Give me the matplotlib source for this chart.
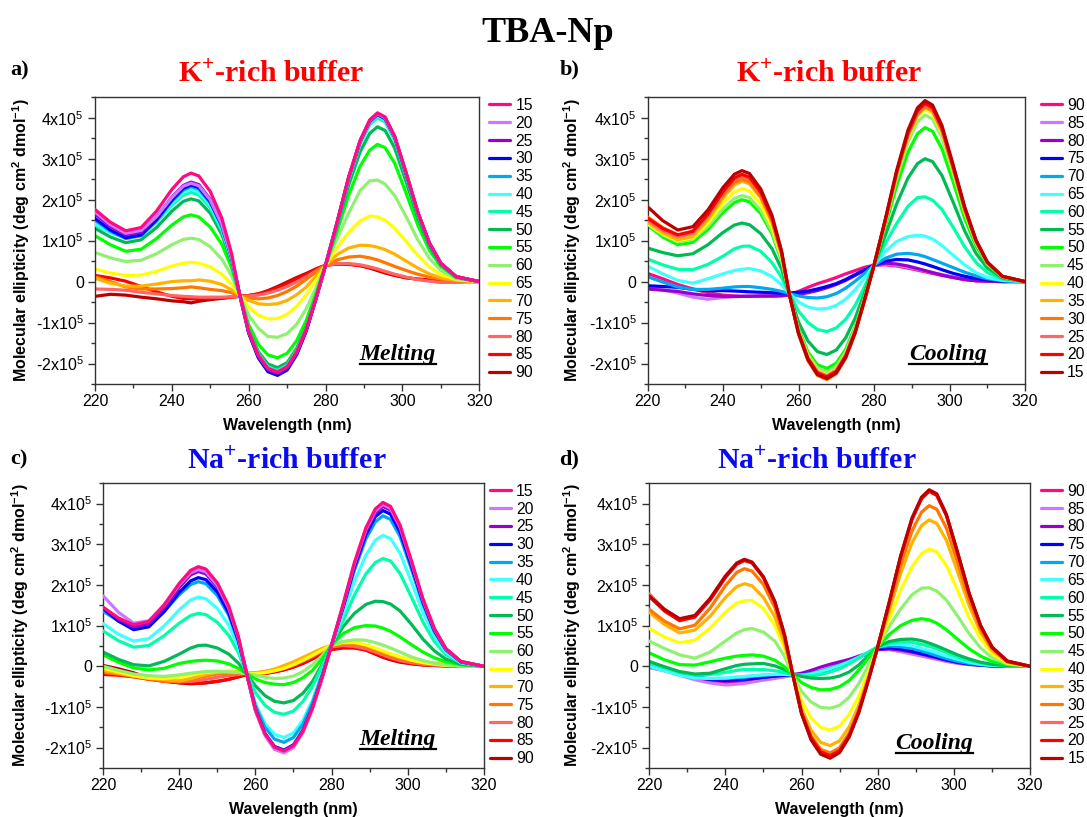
import numpy as np
import matplotlib
matplotlib.use('Agg')
from matplotlib import pyplot as plt
from matplotlib.ticker import MultipleLocator, FuncFormatter

plt.rcParams['font.family'] = ['Liberation Sans', 'DejaVu Sans']
plt.rcParams['mathtext.fontset'] = 'custom'
plt.rcParams['mathtext.rm'] = 'Liberation Sans'
plt.rcParams['mathtext.bf'] = 'Liberation Sans:bold'
plt.rcParams['mathtext.it'] = 'Liberation Sans:italic'

# -----------------------------
# data: ellipticity in units of 1e5 deg cm2 dmol-1, read at these wavelengths (nm)
# -----------------------------
wl = [220, 224, 228, 232, 236, 240, 243, 245, 247, 250, 253, 255.5, 257.5, 260, 262.5,
      265, 267.5, 270, 272.5, 275, 277.5, 280, 283, 286, 289, 291.5, 293.5, 295.5, 298,
      301, 304, 307, 310, 314, 320]

temps_melt = [15, 20, 25, 30, 35, 40, 45, 50, 55, 60, 65, 70, 75, 80, 85, 90]
temps_cool = [90, 85, 80, 75, 70, 65, 60, 55, 50, 45, 40, 35, 30, 25, 20, 15]

# legend-position colours (same palette for every panel)
colors = ['#FF0A80', '#CC77FF', '#9900CC', '#0000FF', '#00A8F0', '#40FFFF',
          '#00FFAA', '#00BB55', '#00FF00', '#90F070', '#FFFF00', '#FFB300',
          '#FF7700', '#FF6666', '#FF0000', '#BB0000']

# a) K+ rich, melting
kmelt_15 = [1.76, 1.45, 1.24, 1.32, 1.72, 2.25, 2.56, 2.65, 2.58, 2.20, 1.55, 0.70, -0.25, -1.22, -1.80, -2.12, -2.21, -2.08, -1.72, -1.15, -0.40, 0.40, 1.45, 2.55, 3.45, 3.95, 4.12, 4.02, 3.55, 2.65, 1.70, 0.95, 0.45, 0.12, 0.0]
kmelt_20 = [1.70, 1.39, 1.18, 1.25, 1.59, 2.05, 2.33, 2.40, 2.34, 1.99, 1.39, 0.61, -0.26, -1.21, -1.79, -2.11, -2.20, -2.07, -1.71, -1.14, -0.40, 0.40, 1.44, 2.54, 3.43, 3.93, 4.10, 4.00, 3.53, 2.64, 1.69, 0.95, 0.45, 0.12, 0.0]
kmelt_25 = [1.65, 1.35, 1.14, 1.21, 1.58, 2.06, 2.35, 2.43, 2.37, 2.01, 1.41, 0.62, -0.26, -1.23, -1.82, -2.15, -2.24, -2.11, -1.74, -1.17, -0.41, 0.40, 1.44, 2.54, 3.43, 3.93, 4.10, 4.00, 3.53, 2.64, 1.69, 0.95, 0.45, 0.12, 0.0]
kmelt_30 = [1.54, 1.26, 1.07, 1.14, 1.51, 1.99, 2.28, 2.36, 2.30, 1.95, 1.37, 0.60, -0.26, -1.26, -1.86, -2.20, -2.29, -2.16, -1.78, -1.20, -0.43, 0.40, 1.44, 2.53, 3.42, 3.91, 4.08, 3.98, 3.52, 2.62, 1.69, 0.94, 0.44, 0.12, 0.0]
kmelt_35 = [1.50, 1.23, 1.05, 1.12, 1.48, 1.96, 2.24, 2.32, 2.26, 1.92, 1.34, 0.59, -0.26, -1.25, -1.85, -2.18, -2.27, -2.14, -1.77, -1.19, -0.42, 0.40, 1.44, 2.53, 3.42, 3.91, 4.08, 3.98, 3.52, 2.62, 1.69, 0.94, 0.44, 0.12, 0.0]
kmelt_40 = [1.42, 1.20, 1.06, 1.12, 1.46, 1.91, 2.18, 2.25, 2.19, 1.86, 1.30, 0.56, -0.26, -1.22, -1.81, -2.13, -2.22, -2.09, -1.73, -1.16, -0.40, 0.40, 1.43, 2.51, 3.39, 3.88, 4.05, 3.95, 3.49, 2.60, 1.67, 0.94, 0.44, 0.12, 0.0]
kmelt_45 = [1.38, 1.20, 1.07, 1.14, 1.45, 1.87, 2.11, 2.18, 2.12, 1.80, 1.25, 0.54, -0.26, -1.20, -1.77, -2.08, -2.17, -2.04, -1.69, -1.13, -0.39, 0.40, 1.42, 2.48, 3.35, 3.83, 4.00, 3.90, 3.45, 2.57, 1.65, 0.92, 0.44, 0.12, 0.0]
kmelt_50 = [1.30, 1.09, 0.95, 1.02, 1.32, 1.72, 1.96, 2.02, 1.97, 1.67, 1.15, 0.48, -0.27, -1.17, -1.71, -2.01, -2.10, -1.98, -1.63, -1.09, -0.37, 0.40, 1.35, 2.35, 3.17, 3.62, 3.78, 3.69, 3.26, 2.43, 1.56, 0.87, 0.41, 0.11, 0.0]
kmelt_55 = [1.12, 0.90, 0.74, 0.79, 1.05, 1.38, 1.58, 1.63, 1.58, 1.33, 0.91, 0.35, -0.28, -1.05, -1.53, -1.79, -1.86, -1.75, -1.44, -0.94, -0.29, 0.40, 1.23, 2.11, 2.82, 3.21, 3.35, 3.27, 2.89, 2.15, 1.38, 0.77, 0.37, 0.10, 0.0]
kmelt_60 = [0.71, 0.58, 0.49, 0.52, 0.68, 0.90, 1.03, 1.06, 1.03, 0.85, 0.55, 0.15, -0.29, -0.82, -1.14, -1.34, -1.36, -1.27, -1.04, -0.66, -0.15, 0.40, 1.05, 1.67, 2.22, 2.46, 2.48, 2.38, 2.10, 1.58, 1.02, 0.57, 0.27, 0.07, 0.0]
kmelt_65 = [0.31, 0.21, 0.15, 0.16, 0.25, 0.38, 0.45, 0.47, 0.45, 0.36, 0.18, -0.06, -0.31, -0.62, -0.82, -0.91, -0.90, -0.80, -0.60, -0.32, 0.02, 0.40, 0.83, 1.20, 1.48, 1.60, 1.58, 1.50, 1.30, 0.98, 0.64, 0.36, 0.17, 0.05, 0.0]
kmelt_70 = [0.08, -0.04, -0.11, -0.11, -0.06, 0.00, 0.02, 0.02, 0.04, 0.01, -0.07, -0.20, -0.33, -0.46, -0.54, -0.56, -0.54, -0.46, -0.32, -0.13, 0.13, 0.40, 0.66, 0.82, 0.89, 0.88, 0.84, 0.78, 0.67, 0.50, 0.33, 0.19, 0.09, 0.03, 0.0]
kmelt_75 = [0.12, 0.00, -0.13, -0.18, -0.18, -0.17, -0.15, -0.13, -0.15, -0.19, -0.22, -0.27, -0.34, -0.40, -0.42, -0.40, -0.34, -0.24, -0.11, 0.06, 0.23, 0.40, 0.53, 0.60, 0.62, 0.58, 0.53, 0.46, 0.37, 0.27, 0.18, 0.11, 0.06, 0.02, 0.0]
kmelt_80 = [-0.18, -0.19, -0.21, -0.26, -0.30, -0.34, -0.36, -0.37, -0.38, -0.38, -0.38, -0.37, -0.36, -0.35, -0.33, -0.28, -0.21, -0.12, -0.01, 0.12, 0.26, 0.40, 0.44, 0.44, 0.41, 0.36, 0.31, 0.25, 0.18, 0.11, 0.05, 0.01, -0.02, -0.02, 0.0]
kmelt_85 = [0.15, 0.09, 0.01, -0.12, -0.25, -0.36, -0.41, -0.42, -0.42, -0.41, -0.40, -0.38, -0.36, -0.34, -0.30, -0.24, -0.15, -0.04, 0.07, 0.18, 0.30, 0.40, 0.43, 0.42, 0.39, 0.34, 0.29, 0.23, 0.16, 0.10, 0.06, 0.03, 0.02, 0.01, 0.0]
kmelt_90 = [-0.36, -0.31, -0.33, -0.38, -0.42, -0.47, -0.49, -0.52, -0.48, -0.44, -0.41, -0.38, -0.36, -0.34, -0.30, -0.22, -0.12, -0.01, 0.10, 0.20, 0.31, 0.40, 0.43, 0.43, 0.39, 0.33, 0.27, 0.21, 0.15, 0.09, 0.06, 0.04, 0.02, 0.01, 0.0]

# b) K+ rich, cooling
kcool_90 = [0.20, 0.07, -0.07, -0.18, -0.27, -0.33, -0.35, -0.36, -0.36, -0.36, -0.36, -0.35, -0.32, -0.24, -0.14, -0.05, 0.02, 0.10, 0.19, 0.27, 0.35, 0.40, 0.41, 0.38, 0.33, 0.28, 0.24, 0.20, 0.15, 0.10, 0.05, 0.02, 0.01, 0.0, 0.0]
kcool_85 = [-0.15, -0.20, -0.28, -0.38, -0.43, -0.39, -0.37, -0.36, -0.35, -0.35, -0.35, -0.35, -0.33, -0.31, -0.26, -0.20, -0.13, -0.05, 0.05, 0.17, 0.29, 0.40, 0.43, 0.40, 0.35, 0.30, 0.26, 0.22, 0.17, 0.11, 0.06, 0.03, 0.01, 0.0, 0.0]
kcool_80 = [-0.18, -0.21, -0.24, -0.30, -0.34, -0.36, -0.36, -0.36, -0.36, -0.35, -0.35, -0.34, -0.33, -0.31, -0.27, -0.22, -0.15, -0.07, 0.03, 0.15, 0.28, 0.40, 0.45, 0.43, 0.38, 0.32, 0.27, 0.22, 0.16, 0.10, 0.05, 0.02, 0.01, 0.0, 0.0]
kcool_75 = [-0.10, -0.12, -0.14, -0.19, -0.22, -0.22, -0.23, -0.24, -0.25, -0.26, -0.27, -0.28, -0.28, -0.26, -0.23, -0.18, -0.12, -0.05, 0.05, 0.17, 0.29, 0.40, 0.50, 0.54, 0.53, 0.48, 0.43, 0.37, 0.29, 0.20, 0.13, 0.08, 0.04, 0.01, 0.0]
kcool_70 = [0.12, -0.01, -0.13, -0.19, -0.19, -0.16, -0.13, -0.12, -0.12, -0.15, -0.19, -0.24, -0.29, -0.35, -0.39, -0.40, -0.37, -0.29, -0.16, 0.01, 0.20, 0.40, 0.57, 0.67, 0.69, 0.66, 0.61, 0.54, 0.45, 0.34, 0.23, 0.14, 0.07, 0.02, 0.0]
kcool_65 = [0.38, 0.19, 0.03, -0.04, 0.07, 0.19, 0.27, 0.30, 0.32, 0.26, 0.12, -0.08, -0.28, -0.50, -0.62, -0.67, -0.66, -0.58, -0.43, -0.20, 0.09, 0.40, 0.74, 0.98, 1.10, 1.13, 1.11, 1.04, 0.88, 0.64, 0.41, 0.22, 0.10, 0.03, 0.0]
kcool_60 = [0.55, 0.41, 0.30, 0.29, 0.42, 0.62, 0.80, 0.86, 0.87, 0.74, 0.46, 0.10, -0.28, -0.72, -1.00, -1.17, -1.22, -1.13, -0.92, -0.58, -0.12, 0.40, 0.93, 1.42, 1.84, 2.05, 2.07, 1.99, 1.76, 1.32, 0.85, 0.47, 0.22, 0.06, 0.0]
kcool_55 = [0.82, 0.71, 0.63, 0.68, 0.90, 1.20, 1.38, 1.43, 1.39, 1.17, 0.80, 0.31, -0.28, -0.99, -1.45, -1.71, -1.78, -1.67, -1.37, -0.89, -0.27, 0.40, 1.13, 1.90, 2.53, 2.88, 3.00, 2.93, 2.59, 1.93, 1.24, 0.69, 0.33, 0.09, 0.0]
kcool_50 = [1.38, 1.09, 0.90, 0.96, 1.27, 1.69, 1.93, 2.00, 1.95, 1.66, 1.16, 0.51, -0.28, -1.15, -1.72, -2.03, -2.12, -1.99, -1.65, -1.10, -0.37, 0.40, 1.35, 2.34, 3.16, 3.61, 3.76, 3.67, 3.24, 2.42, 1.55, 0.87, 0.41, 0.11, 0.0]
kcool_45 = [1.40, 1.14, 0.97, 1.03, 1.35, 1.78, 2.03, 2.10, 2.05, 1.74, 1.22, 0.54, -0.28, -1.19, -1.78, -2.11, -2.20, -2.07, -1.71, -1.14, -0.40, 0.40, 1.43, 2.52, 3.41, 3.90, 4.07, 3.97, 3.51, 2.62, 1.68, 0.94, 0.44, 0.12, 0.0]
kcool_40 = [1.42, 1.17, 1.00, 1.07, 1.43, 1.91, 2.19, 2.27, 2.21, 1.89, 1.33, 0.60, -0.28, -1.23, -1.84, -2.18, -2.28, -2.15, -1.78, -1.19, -0.42, 0.40, 1.47, 2.60, 3.52, 4.03, 4.20, 4.10, 3.62, 2.70, 1.73, 0.97, 0.46, 0.12, 0.0]
kcool_35 = [1.45, 1.19, 1.02, 1.10, 1.51, 2.04, 2.36, 2.45, 2.39, 2.04, 1.44, 0.66, -0.28, -1.24, -1.88, -2.22, -2.32, -2.18, -1.81, -1.22, -0.44, 0.40, 1.49, 2.63, 3.56, 4.07, 4.25, 4.15, 3.66, 2.73, 1.76, 0.98, 0.46, 0.12, 0.0]
kcool_30 = [1.58, 1.32, 1.14, 1.22, 1.60, 2.11, 2.42, 2.50, 2.44, 2.08, 1.47, 0.68, -0.28, -1.28, -1.93, -2.29, -2.39, -2.25, -1.87, -1.26, -0.46, 0.40, 1.49, 2.64, 3.58, 4.10, 4.28, 4.18, 3.69, 2.75, 1.77, 0.99, 0.47, 0.12, 0.0]
kcool_25 = [1.50, 1.25, 1.09, 1.18, 1.60, 2.16, 2.49, 2.58, 2.51, 2.15, 1.52, 0.71, -0.28, -1.24, -1.86, -2.20, -2.30, -2.17, -1.79, -1.20, -0.43, 0.40, 1.50, 2.65, 3.60, 4.12, 4.30, 4.20, 3.71, 2.76, 1.78, 0.99, 0.47, 0.12, 0.0]
kcool_20 = [1.55, 1.30, 1.14, 1.23, 1.65, 2.20, 2.53, 2.62, 2.55, 2.18, 1.55, 0.72, -0.28, -1.25, -1.88, -2.23, -2.33, -2.19, -1.82, -1.22, -0.44, 0.40, 1.51, 2.68, 3.64, 4.17, 4.35, 4.25, 3.75, 2.80, 1.80, 1.00, 0.47, 0.13, 0.0]
kcool_15 = [1.83, 1.49, 1.26, 1.34, 1.75, 2.30, 2.62, 2.71, 2.64, 2.26, 1.61, 0.75, -0.28, -1.27, -1.91, -2.27, -2.37, -2.23, -1.85, -1.25, -0.45, 0.40, 1.53, 2.72, 3.70, 4.24, 4.42, 4.31, 3.81, 2.84, 1.83, 1.02, 0.48, 0.13, 0.0]

# c) Na+ rich, melting
namelt_15 = [1.45, 1.19, 1.02, 1.10, 1.51, 2.04, 2.36, 2.45, 2.39, 2.05, 1.48, 0.74, -0.10, -1.07, -1.66, -1.99, -2.08, -1.95, -1.59, -1.02, -0.28, 0.52, 1.51, 2.55, 3.40, 3.87, 4.03, 3.93, 3.47, 2.59, 1.66, 0.93, 0.44, 0.12, 0.0]
namelt_20 = [1.73, 1.33, 1.06, 1.12, 1.50, 2.00, 2.30, 2.38, 2.32, 1.99, 1.44, 0.71, -0.10, -1.10, -1.70, -2.04, -2.13, -2.00, -1.63, -1.05, -0.29, 0.52, 1.50, 2.52, 3.36, 3.82, 3.98, 3.88, 3.43, 2.56, 1.64, 0.92, 0.43, 0.12, 0.0]
namelt_25 = [1.45, 1.16, 0.97, 1.05, 1.43, 1.94, 2.25, 2.33, 2.27, 1.95, 1.41, 0.70, -0.10, -1.07, -1.66, -1.99, -2.08, -1.95, -1.59, -1.02, -0.28, 0.52, 1.48, 2.49, 3.32, 3.77, 3.93, 3.84, 3.39, 2.53, 1.62, 0.91, 0.43, 0.11, 0.0]
namelt_30 = [1.42, 1.11, 0.90, 0.97, 1.34, 1.82, 2.10, 2.18, 2.13, 1.83, 1.31, 0.64, -0.11, -1.06, -1.65, -1.97, -2.06, -1.93, -1.57, -1.01, -0.27, 0.52, 1.45, 2.43, 3.23, 3.68, 3.83, 3.74, 3.30, 2.46, 1.58, 0.88, 0.42, 0.11, 0.0]
namelt_35 = [1.35, 1.12, 0.97, 1.03, 1.35, 1.76, 2.01, 2.08, 2.03, 1.74, 1.25, 0.61, -0.11, -0.97, -1.50, -1.79, -1.87, -1.75, -1.42, -0.90, -0.21, 0.52, 1.42, 2.36, 3.13, 3.55, 3.70, 3.61, 3.19, 2.38, 1.53, 0.85, 0.40, 0.11, 0.0]
namelt_40 = [1.05, 0.79, 0.62, 0.68, 0.99, 1.39, 1.63, 1.70, 1.66, 1.42, 1.01, 0.48, -0.12, -0.92, -1.41, -1.67, -1.75, -1.64, -1.32, -0.83, -0.18, 0.52, 1.28, 2.08, 2.73, 3.10, 3.22, 3.14, 2.78, 2.07, 1.33, 0.74, 0.35, 0.09, 0.0]
namelt_45 = [0.87, 0.63, 0.47, 0.51, 0.75, 1.06, 1.25, 1.30, 1.27, 1.08, 0.76, 0.34, -0.13, -0.65, -0.96, -1.13, -1.18, -1.10, -0.86, -0.49, 0.00, 0.52, 1.12, 1.75, 2.27, 2.55, 2.65, 2.59, 2.28, 1.70, 1.09, 0.61, 0.29, 0.08, 0.0]
namelt_50 = [0.35, 0.17, 0.04, 0.01, 0.12, 0.30, 0.45, 0.51, 0.52, 0.45, 0.30, 0.08, -0.17, -0.48, -0.72, -0.86, -0.90, -0.84, -0.66, -0.37, 0.04, 0.52, 0.97, 1.30, 1.52, 1.60, 1.59, 1.53, 1.36, 1.03, 0.67, 0.38, 0.18, 0.05, 0.0]
namelt_55 = [0.28, 0.10, -0.04, -0.09, -0.05, 0.07, 0.12, 0.14, 0.15, 0.13, 0.06, -0.05, -0.17, -0.31, -0.40, -0.44, -0.45, -0.40, -0.28, -0.10, 0.18, 0.52, 0.80, 0.95, 1.00, 0.99, 0.94, 0.86, 0.72, 0.53, 0.35, 0.21, 0.11, 0.04, 0.0]
namelt_60 = [0.00, -0.10, -0.19, -0.23, -0.25, -0.21, -0.17, -0.15, -0.13, -0.12, -0.14, -0.15, -0.17, -0.22, -0.27, -0.30, -0.29, -0.24, -0.13, 0.04, 0.26, 0.52, 0.61, 0.65, 0.64, 0.58, 0.52, 0.45, 0.35, 0.23, 0.14, 0.07, 0.03, 0.01, 0.0]
namelt_65 = [-0.05, -0.14, -0.23, -0.29, -0.30, -0.27, -0.21, -0.18, -0.15, -0.13, -0.13, -0.15, -0.17, -0.18, -0.16, -0.11, -0.05, 0.04, 0.15, 0.27, 0.40, 0.52, 0.59, 0.59, 0.53, 0.45, 0.38, 0.31, 0.23, 0.15, 0.09, 0.05, 0.02, 0.01, 0.0]
namelt_70 = [-0.10, -0.17, -0.24, -0.29, -0.33, -0.36, -0.30, -0.25, -0.20, -0.15, -0.12, -0.13, -0.16, -0.16, -0.13, -0.07, 0.02, 0.11, 0.22, 0.33, 0.44, 0.52, 0.57, 0.58, 0.52, 0.43, 0.36, 0.29, 0.22, 0.16, 0.12, 0.08, 0.05, 0.02, 0.0]
namelt_75 = [-0.15, -0.19, -0.25, -0.31, -0.36, -0.38, -0.33, -0.28, -0.24, -0.19, -0.17, -0.16, -0.17, -0.16, -0.13, -0.08, -0.01, 0.08, 0.18, 0.29, 0.40, 0.50, 0.55, 0.55, 0.49, 0.40, 0.33, 0.26, 0.19, 0.13, 0.09, 0.06, 0.04, 0.02, 0.0]
namelt_80 = [-0.08, -0.15, -0.22, -0.30, -0.36, -0.38, -0.37, -0.35, -0.32, -0.27, -0.23, -0.20, -0.18, -0.17, -0.15, -0.11, -0.05, 0.03, 0.13, 0.24, 0.37, 0.48, 0.51, 0.49, 0.43, 0.35, 0.28, 0.21, 0.14, 0.09, 0.05, 0.03, 0.02, 0.01, 0.0]
namelt_85 = [-0.20, -0.22, -0.26, -0.32, -0.37, -0.40, -0.41, -0.42, -0.40, -0.37, -0.32, -0.26, -0.20, -0.19, -0.17, -0.13, -0.08, -0.01, 0.08, 0.19, 0.31, 0.41, 0.45, 0.45, 0.40, 0.31, 0.24, 0.18, 0.12, 0.07, 0.04, 0.02, 0.01, 0.0, 0.0]
namelt_90 = [0.02, -0.06, -0.16, -0.28, -0.36, -0.41, -0.43, -0.42, -0.41, -0.37, -0.32, -0.26, -0.21, -0.20, -0.18, -0.14, -0.09, -0.02, 0.07, 0.18, 0.31, 0.42, 0.46, 0.46, 0.40, 0.30, 0.22, 0.16, 0.10, 0.06, 0.03, 0.02, 0.01, 0.0, 0.0]

# d) Na+ rich, cooling
nacool_90 = [-0.02, -0.10, -0.20, -0.29, -0.36, -0.40, -0.39, -0.38, -0.35, -0.31, -0.27, -0.24, -0.22, -0.21, -0.20, -0.15, -0.06, 0.05, 0.15, 0.25, 0.33, 0.42, 0.43, 0.38, 0.32, 0.27, 0.24, 0.19, 0.14, 0.09, 0.05, 0.03, 0.01, 0.0, 0.0]
nacool_85 = [-0.03, -0.11, -0.22, -0.33, -0.41, -0.46, -0.44, -0.42, -0.39, -0.34, -0.30, -0.26, -0.23, -0.21, -0.17, -0.11, -0.03, 0.07, 0.16, 0.25, 0.32, 0.41, 0.41, 0.36, 0.30, 0.25, 0.21, 0.17, 0.12, 0.07, 0.04, 0.02, 0.01, 0.0, 0.0]
nacool_80 = [0.00, -0.09, -0.19, -0.27, -0.33, -0.36, -0.35, -0.33, -0.31, -0.27, -0.24, -0.22, -0.21, -0.17, -0.10, -0.02, 0.05, 0.11, 0.17, 0.24, 0.31, 0.41, 0.43, 0.40, 0.35, 0.30, 0.25, 0.21, 0.15, 0.09, 0.05, 0.03, 0.01, 0.0, 0.0]
nacool_75 = [0.02, -0.07, -0.17, -0.26, -0.32, -0.35, -0.33, -0.32, -0.30, -0.27, -0.24, -0.22, -0.21, -0.20, -0.19, -0.16, -0.08, 0.02, 0.12, 0.22, 0.32, 0.43, 0.46, 0.43, 0.37, 0.31, 0.27, 0.22, 0.16, 0.10, 0.06, 0.03, 0.01, 0.0, 0.0]
nacool_70 = [0.05, -0.07, -0.19, -0.27, -0.30, -0.30, -0.28, -0.27, -0.25, -0.22, -0.20, -0.20, -0.21, -0.21, -0.18, -0.12, -0.05, 0.03, 0.12, 0.22, 0.34, 0.47, 0.50, 0.48, 0.44, 0.38, 0.32, 0.26, 0.19, 0.12, 0.07, 0.04, 0.02, 0.01, 0.0]
nacool_65 = [0.00, -0.11, -0.22, -0.29, -0.30, -0.29, -0.26, -0.25, -0.23, -0.21, -0.20, -0.20, -0.21, -0.22, -0.19, -0.13, -0.06, 0.02, 0.11, 0.22, 0.35, 0.48, 0.54, 0.54, 0.50, 0.44, 0.39, 0.33, 0.25, 0.17, 0.10, 0.05, 0.02, 0.01, 0.0]
nacool_60 = [0.08, -0.03, -0.15, -0.21, -0.20, -0.15, -0.10, -0.08, -0.08, -0.08, -0.11, -0.15, -0.20, -0.24, -0.24, -0.20, -0.14, -0.06, 0.06, 0.20, 0.34, 0.48, 0.56, 0.60, 0.59, 0.54, 0.49, 0.43, 0.34, 0.23, 0.14, 0.08, 0.04, 0.01, 0.0]
nacool_55 = [0.12, -0.01, -0.13, -0.19, -0.17, -0.06, 0.02, 0.05, 0.06, 0.07, 0.01, -0.08, -0.17, -0.25, -0.29, -0.30, -0.29, -0.24, -0.14, 0.03, 0.25, 0.48, 0.61, 0.66, 0.67, 0.63, 0.57, 0.50, 0.40, 0.28, 0.18, 0.10, 0.05, 0.02, 0.0]
nacool_50 = [0.33, 0.16, 0.04, 0.03, 0.11, 0.20, 0.25, 0.27, 0.28, 0.25, 0.15, -0.01, -0.19, -0.40, -0.52, -0.58, -0.57, -0.50, -0.35, -0.10, 0.20, 0.48, 0.78, 1.00, 1.13, 1.17, 1.14, 1.06, 0.90, 0.66, 0.43, 0.25, 0.12, 0.04, 0.0]
nacool_45 = [0.62, 0.44, 0.28, 0.20, 0.35, 0.62, 0.82, 0.90, 0.93, 0.84, 0.62, 0.25, -0.18, -0.62, -0.88, -1.01, -1.03, -0.96, -0.76, -0.43, 0.01, 0.48, 0.98, 1.41, 1.76, 1.92, 1.93, 1.85, 1.63, 1.23, 0.80, 0.45, 0.21, 0.06, 0.0]
nacool_40 = [0.93, 0.72, 0.58, 0.64, 0.94, 1.33, 1.56, 1.61, 1.62, 1.42, 1.00, 0.45, -0.15, -0.85, -1.27, -1.50, -1.57, -1.47, -1.18, -0.74, -0.15, 0.48, 1.16, 1.87, 2.45, 2.77, 2.88, 2.81, 2.48, 1.85, 1.19, 0.67, 0.31, 0.08, 0.0]
nacool_35 = [1.33, 1.03, 0.82, 0.89, 1.23, 1.69, 1.96, 2.03, 1.98, 1.69, 1.21, 0.57, -0.14, -1.03, -1.57, -1.87, -1.95, -1.83, -1.49, -0.96, -0.27, 0.48, 1.36, 2.28, 3.04, 3.46, 3.60, 3.51, 3.10, 2.31, 1.49, 0.83, 0.39, 0.10, 0.0]
nacool_30 = [1.40, 1.11, 0.92, 1.01, 1.43, 1.98, 2.31, 2.40, 2.34, 2.01, 1.44, 0.70, -0.13, -1.11, -1.71, -2.04, -2.13, -2.00, -1.64, -1.07, -0.32, 0.48, 1.46, 2.49, 3.33, 3.79, 3.95, 3.86, 3.40, 2.54, 1.63, 0.91, 0.43, 0.11, 0.0]
nacool_25 = [1.78, 1.40, 1.15, 1.23, 1.65, 2.20, 2.53, 2.62, 2.56, 2.19, 1.58, 0.78, -0.12, -1.16, -1.78, -2.12, -2.22, -2.09, -1.71, -1.12, -0.35, 0.48, 1.56, 2.70, 3.63, 4.14, 4.32, 4.22, 3.72, 2.78, 1.78, 1.00, 0.47, 0.13, 0.0]
nacool_20 = [1.72, 1.36, 1.12, 1.21, 1.63, 2.18, 2.51, 2.60, 2.54, 2.18, 1.57, 0.77, -0.12, -1.15, -1.76, -2.10, -2.20, -2.07, -1.70, -1.11, -0.34, 0.48, 1.56, 2.69, 3.61, 4.12, 4.30, 4.20, 3.71, 2.76, 1.78, 0.99, 0.47, 0.12, 0.0]
nacool_15 = [1.73, 1.40, 1.17, 1.25, 1.67, 2.22, 2.54, 2.63, 2.56, 2.20, 1.59, 0.78, -0.12, -1.17, -1.81, -2.16, -2.26, -2.12, -1.74, -1.15, -0.36, 0.48, 1.57, 2.71, 3.65, 4.16, 4.34, 4.24, 3.74, 2.79, 1.79, 1.00, 0.47, 0.13, 0.0]

kmelt = [kmelt_15, kmelt_20, kmelt_25, kmelt_30, kmelt_35, kmelt_40, kmelt_45, kmelt_50,
         kmelt_55, kmelt_60, kmelt_65, kmelt_70, kmelt_75, kmelt_80, kmelt_85, kmelt_90]
kcool = [kcool_90, kcool_85, kcool_80, kcool_75, kcool_70, kcool_65, kcool_60, kcool_55,
         kcool_50, kcool_45, kcool_40, kcool_35, kcool_30, kcool_25, kcool_20, kcool_15]
namelt = [namelt_15, namelt_20, namelt_25, namelt_30, namelt_35, namelt_40, namelt_45, namelt_50,
          namelt_55, namelt_60, namelt_65, namelt_70, namelt_75, namelt_80, namelt_85, namelt_90]
nacool = [nacool_90, nacool_85, nacool_80, nacool_75, nacool_70, nacool_65, nacool_60, nacool_55,
          nacool_50, nacool_45, nacool_40, nacool_35, nacool_30, nacool_25, nacool_20, nacool_15]

SCALE = 1e5
serif = ['Liberation Serif', 'DejaVu Serif']


def sci_fmt(v, pos):
    n = int(round(v / SCALE))
    if n == 0:
        return '0'
    return f'{n}x10$^{{5}}$'


def draw_panel(ax, curves, temps, legend_x, mode_text, mode_xy, ylab_x):
    handles = []
    for i, (t, c) in enumerate(zip(temps, curves)):
        # colder curves on top
        ln, = ax.plot(wl, np.array(c) * SCALE, color=colors[i], lw=2.3,
                      zorder=2 + (100 - t) / 100.0, label=str(t), solid_capstyle='round')
        handles.append(ln)
    ax.set_xlim(220, 320)
    ax.set_ylim(-2.5 * SCALE, 4.5 * SCALE)
    ax.xaxis.set_major_locator(MultipleLocator(20))
    ax.xaxis.set_minor_locator(MultipleLocator(10))
    ax.yaxis.set_major_locator(MultipleLocator(1 * SCALE))
    ax.yaxis.set_minor_locator(MultipleLocator(0.5 * SCALE))
    ax.yaxis.set_major_formatter(FuncFormatter(sci_fmt))
    ax.tick_params(which='both', direction='out', labelsize=11.5, width=1.0, color='#333333')
    ax.tick_params(which='major', length=5)
    ax.tick_params(which='minor', length=3)
    ax.tick_params(axis='x', pad=2)
    ax.tick_params(axis='y', pad=3)
    for sp in ax.spines.values():
        sp.set_linewidth(1.0)
        sp.set_color('#333333')
    ax.set_xlabel('Wavelength (nm)', fontsize=11.5, fontweight='bold', labelpad=7)
    ax.set_ylabel(r'Molecular ellipticity (deg cm$^{\mathbf{2}}$ dmol$^{\mathbf{-1}}$)',
                  fontsize=11.5, fontweight='bold', va='center')
    ax.yaxis.set_label_coords(ylab_x, 0.5)
    ax.legend(handles=handles, loc='upper left', bbox_to_anchor=(legend_x, 0.998),
              frameon=False, borderpad=0, borderaxespad=0, handlelength=1.34,
              handletextpad=0.35, labelspacing=0.18, fontsize=11.3)
    txt = ax.text(mode_xy[0], mode_xy[1], mode_text, transform=ax.transAxes,
                  fontsize=17, fontweight='bold', style='italic', family=serif,
                  ha='left', va='baseline', zorder=10)
    return txt


fig = plt.figure(figsize=(10.87, 8.17), dpi=100)

ax_a = fig.add_axes([0.0874, 0.5300, 0.3535, 0.3509])
ax_b = fig.add_axes([0.5957, 0.5300, 0.3473, 0.3509])
ax_c = fig.add_axes([0.0949, 0.0600, 0.3502, 0.3485])
ax_d = fig.add_axes([0.5972, 0.0600, 0.3505, 0.3485])

t_a = draw_panel(ax_a, kmelt, temps_melt, 1.025, 'Melting', (0.689, 0.083), -0.193)
t_b = draw_panel(ax_b, kcool, temps_cool, 1.041, 'Cooling', (0.693, 0.084), -0.200)
t_c = draw_panel(ax_c, namelt, temps_melt, 1.015, 'Melting', (0.674, 0.081), -0.219)
t_d = draw_panel(ax_d, nacool, temps_cool, 1.028, 'Cooling', (0.647, 0.065), -0.203)

# figure title, panel letters and buffer titles
fig.text(0.504, 0.949, 'TBA-Np', fontsize=26, fontweight='bold', family=serif,
         ha='center', va='baseline')
for x, y, s in [(0.0096, 0.908, 'a)'), (0.515, 0.909, 'b)'),
                (0.0096, 0.431, 'c)'), (0.514, 0.431, 'd)')]:
    fig.text(x, y, s, fontsize=16, fontweight='bold', family=serif, va='baseline')
for x, y, s, c in [(0.2493, 0.900, r'K$^{+}$-rich buffer', '#FF0000'),
                   (0.7626, 0.900, r'K$^{+}$-rich buffer', '#FF0000'),
                   (0.2640, 0.4256, r'Na$^{+}$-rich buffer', '#0A0AF0'),
                   (0.7511, 0.4256, r'Na$^{+}$-rich buffer', '#0A0AF0')]:
    fig.text(x, y, s, fontsize=21.5, fontweight='bold', family=serif, color=c,
             ha='center', va='baseline')

# underline the Melting / Cooling labels
fig.canvas.draw()
renderer = fig.canvas.get_renderer()
for ax, txt in [(ax_a, t_a), (ax_b, t_b), (ax_c, t_c), (ax_d, t_d)]:
    bb = txt.get_window_extent(renderer)
    inv = ax.transAxes.inverted()
    (x0, y0), (x1, _) = inv.transform([[bb.x0, bb.y0], [bb.x1, bb.y0]])
    ax.plot([x0, x1], [y0 + 0.004, y0 + 0.004], transform=ax.transAxes,
            color='k', lw=1.6, zorder=10, clip_on=False)

plt.savefig('out.png', dpi=100)
